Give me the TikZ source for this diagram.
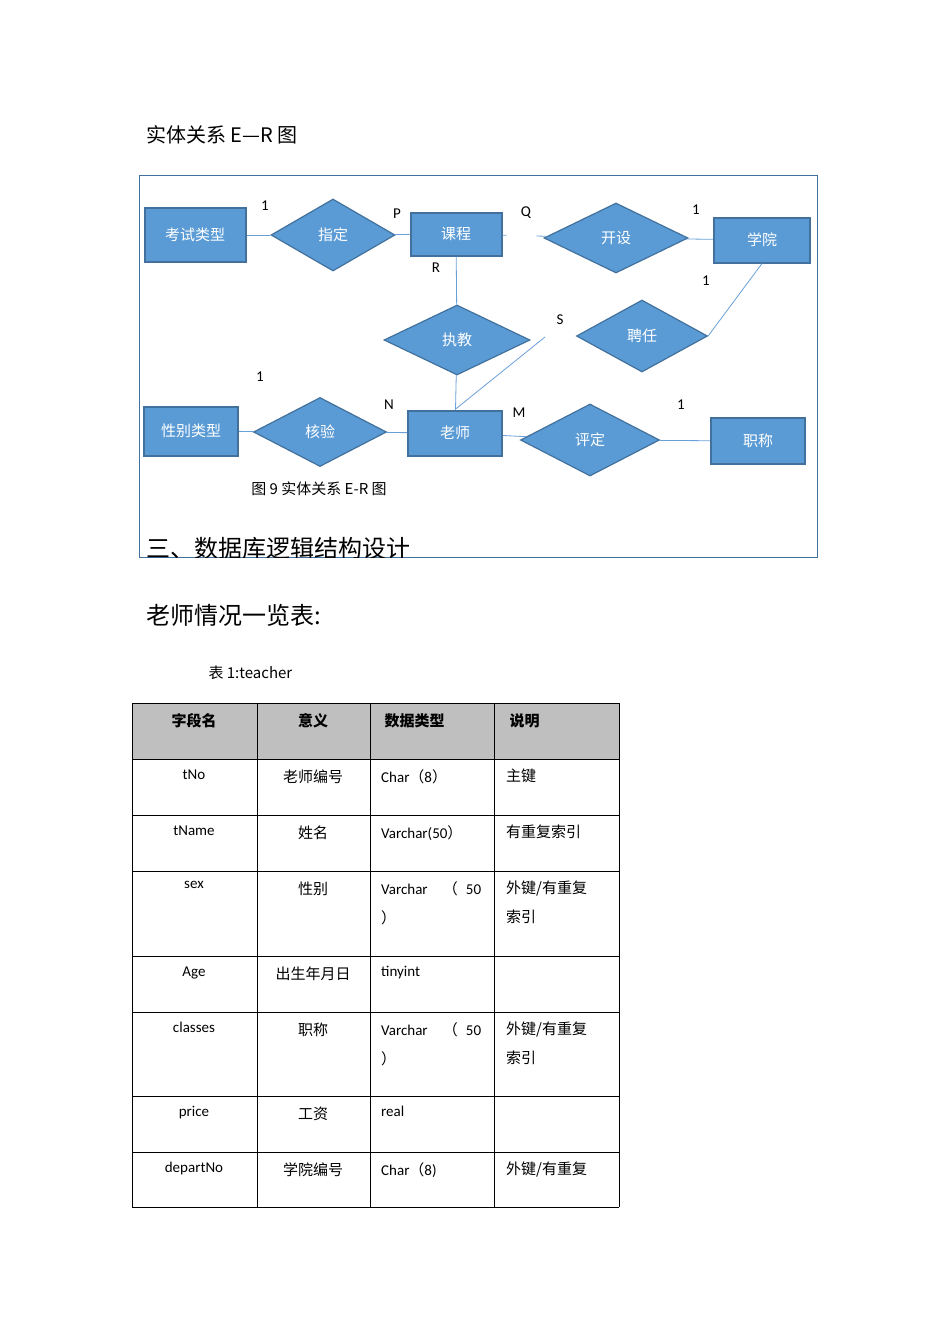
\documentclass[tikz,border=0pt]{standalone}
\usepackage{fontspec}
\setmainfont{Carlito}
\newfontfamily\cjk{Noto Sans CJK SC}
\usetikzlibrary{shapes.geometric}
\newcommand\flp{{\cjk （}}
\newcommand\frp{{\cjk ）}}
\definecolor{fillb}{HTML}{5B9BD5}
\definecolor{edgeb}{HTML}{41719C}
\definecolor{lineb}{HTML}{6A9FD8}
\definecolor{hdr}{HTML}{BFBFBF}
\tikzset{
 ent/.style={draw=edgeb,line width=2pt,fill=fillb,minimum width=#1,minimum height=46pt,inner sep=0pt,font=\cjk\fontsize{15}{15}\selectfont,text=white},
 rel/.style={diamond,draw=edgeb,line width=1.2pt,fill=fillb,aspect=1.8,inner sep=0pt,font=\cjk\fontsize{15}{15}\selectfont,text=white},
 conn/.style={draw=lineb,line width=0.8pt},
 lab/.style={font=\fontsize{15}{15}\selectfont},
 cell/.style={font=\fontsize{15}{18}\selectfont,anchor=north},
 cellz/.style={font=\cjk\fontsize{15}{18}\selectfont,anchor=north},
}
\begin{document}
\begin{tikzpicture}[x=1pt,y=-1pt]
\useasboundingbox (0,0) rectangle (950,1344);
\node[anchor=west,font=\cjk\fontsize{20}{20}\selectfont] (t1) at (143,135) {实体关系 E—R 图};
\draw[draw=edgeb,line width=1pt] (139,175) rectangle (817,557);
% entities
\node[ent=101pt,minimum height=54pt] (ks) at (195,235) {考试类型};
\node[rel,minimum width=124pt,minimum height=72pt] (zd) at (333,235) {指定};
\node[ent=91pt,minimum height=43pt] (kc) at (456,234) {课程};
\node[rel,minimum width=144pt,minimum height=70pt] (ks2) at (616,238) {开设};
\node[ent=96pt,minimum height=45pt] (xy) at (762,240) {学院};
\node[rel,minimum width=146pt,minimum height=70pt] (zj) at (457,340) {执教};
\node[rel,minimum width=131pt,minimum height=72pt] (pr) at (642,336) {聘任};
\node[ent=94pt,minimum height=49pt] (xb) at (191,431) {性别类型};
\node[rel,minimum width=133pt,minimum height=69pt] (hy) at (320,432) {核验};
\node[ent=94pt,minimum height=45pt] (ls) at (455,433) {老师};
\node[rel,minimum width=139pt,minimum height=72pt] (pd) at (590,440) {评定};
\node[ent=94pt,minimum height=46pt] (zc) at (758,441) {职称};
\coordinate (sEnd) at (545,337);
% connectors
\draw[conn] (ks) -- (zd);
\draw[conn] (zd) -- (kc);
\draw[conn,dash pattern=on 4pt off 30pt on 60pt off 30pt] (kc) -- (ks2);
\draw[conn] (ks2) -- (xy);
\draw[conn] (xy.south) -- (pr.east);
\draw[conn] (kc) -- (zj);
\draw[conn] (zj) -- (ls);
\draw[conn] (sEnd) -- (ls.north);
\draw[conn] (hy) -- (xb);
\draw[conn] (hy) -- (ls);
\draw[conn] (ls) -- (pd);
\draw[conn] (pd) -- (zc);
% labels
\node[lab] (l1) at (265,206) {1};
\node[lab] (lP) at (397,214) {P};
\node[lab] (lQ) at (526,213) {Q};
\node[lab] (l2) at (696,210) {1};
\node[lab] (lR) at (436,268) {R};
\node[lab] (l3) at (706,281) {1};
\node[lab] (lS) at (560,320) {S};
\node[lab] (l4) at (260,377) {1};
\node[lab] (lN) at (389,405) {N};
\node[lab] (lM) at (519,413) {M};
\node[lab] (l5) at (681,405) {1};
\node[font=\cjk\fontsize{15}{15}\selectfont] (cap) at (319,489) {图 9 实体关系 E-R 图};
\begin{scope}
\clip (139,175) rectangle (817,557);
\node[anchor=base west,font=\cjk\fontsize{24}{24}\selectfont] (h3) at (143,557) {三、数据库逻辑结构设计};
\end{scope}
\node[anchor=west,font=\cjk\fontsize{24}{24}\selectfont] (h4) at (143,615) {老师情况一览表:};
\node[anchor=west,font=\cjk\fontsize{15}{15}\selectfont] (tc) at (205,673) {表 1:teacher};
% table
\fill[hdr] (132,703) rectangle (619,759);
\foreach \y in {703,759,815,871,956,1012,1096,1152,1207} \draw[line width=0.6pt] (132,\y) -- (619,\y);
\foreach \x in {132,257,370,494,619} \draw[line width=0.6pt] (\x,703) -- (\x,1207);
\node[cellz,font=\cjk\bfseries\fontsize{15}{18}\selectfont] (h1) at (194,710) {字段名};
\node[cellz,font=\cjk\bfseries\fontsize{15}{18}\selectfont] (h2) at (313,710) {意义};
\node[cellz,font=\cjk\bfseries\fontsize{15}{18}\selectfont,anchor=north west] (hh3) at (381,710) {数据类型};
\node[cellz,font=\cjk\bfseries\fontsize{15}{18}\selectfont,anchor=north west] (hh4) at (506,710) {说明};
\foreach \y/\a/\b/\c/\d [count=\i] in {
 766/tNo/老师编号/{Char\flp 8\frp}/主键,
 822/tName/姓名/{Varchar(50\frp}/有重复索引,
 878/sex/性别/{Varchar\hfill\flp\hspace{8pt}50\\\frp}/{外键/有重复\\索引},
 963/Age/出生年月日/tinyint/{},
 1019/classes/职称/{Varchar\hfill\flp\hspace{8pt}50\\\frp}/{外键/有重复\\索引},
 1103/price/工资/real/{},
 1159/departNo/学院编号/{Char\flp 8)}/{外键/有重复}}{
 \node[cell] (a\i) at (194,\y) {\a};
 \node[cellz] (b\i) at (313,\y) {\b};
 \node[anchor=north west,inner sep=3pt,text width=100pt,align=left,font=\cjk\fontsize{15}{29}\selectfont] (c\i) at (378,\y) {\fontspec{Carlito}\c};
 \node[anchor=north west,inner sep=3pt,text width=100pt,align=left,font=\cjk\fontsize{15}{29}\selectfont] (d\i) at (503,\y) {\d};
}
\end{tikzpicture}
\end{document}
